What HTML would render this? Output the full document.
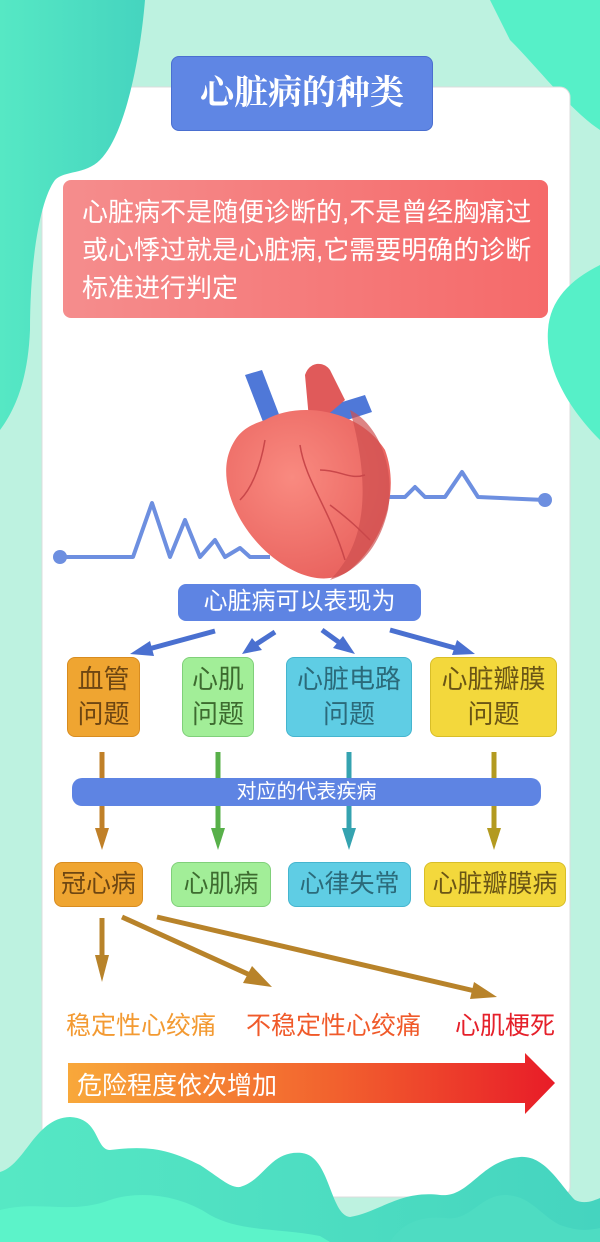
<!DOCTYPE html>
<html><head><meta charset="utf-8"><style>
*{margin:0;padding:0;box-sizing:border-box}
body{width:600px;height:1242px;position:relative;overflow:hidden;background:#bdf2e0;font-family:"Liberation Sans","Noto Sans CJK SC",sans-serif}
.a{position:absolute;white-space:nowrap}
.b{position:absolute;border-radius:8px;display:flex;align-items:center;justify-content:center;text-align:center;line-height:1.35;white-space:nowrap}
</style></head><body>
<svg class="a" style="left:0;top:0" width="600" height="1242">
<defs>
<linearGradient id="g1" x1="0" x2="1"><stop offset="0" stop-color="#56e8c4"/><stop offset="1" stop-color="#45d4bf"/></linearGradient>
<linearGradient id="ar" x1="0" x2="1"><stop offset="0" stop-color="#f8a83a"/><stop offset="0.55" stop-color="#f2612e"/><stop offset="1" stop-color="#e81c28"/></linearGradient>
<linearGradient id="pk" x1="0" x2="1"><stop offset="0" stop-color="#f58d8d"/><stop offset="1" stop-color="#f56a6a"/></linearGradient>
<radialGradient id="ht" cx="0.4" cy="0.4" r="0.7"><stop offset="0" stop-color="#f98a80"/><stop offset="1" stop-color="#e8605c"/></radialGradient>
</defs>
<path d="M490 0 H600 V130 C570 110 540 70 510 40 Z" fill="#56f0c8"/>
<rect x="42" y="87" width="528" height="1110" rx="10" fill="#fff" stroke="#dcdcdc"/>
<path d="M0 0 H145 C140 60 125 135 100 160 C85 175 65 170 55 180 C40 200 30 260 30 330 C28 380 15 410 0 430 Z" fill="url(#g1)"/>
<path d="M600 265 C570 280 550 300 548 330 C545 370 570 410 600 440 Z" fill="#56f0c8"/>
<!-- bottom waves -->
<path d="M0 1172 C25 1165 35 1118 70 1117 C100 1118 95 1150 110 1150 C150 1145 170 1150 200 1165 C220 1178 230 1188 240 1187 C265 1180 270 1150 302 1153 C330 1156 330 1215 350 1217 C380 1212 400 1190 440 1195 C470 1198 480 1160 520 1157 C545 1155 560 1185 575 1200 C585 1205 595 1200 600 1198 V1242 H0 Z" fill="url(#g1)"/>
<path d="M0 1210 C40 1200 70 1215 110 1200 C140 1190 180 1195 210 1215 C240 1232 280 1228 320 1236 L330 1242 H0 Z" fill="#5cf3c9"/>
<path d="M390 1242 C400 1225 420 1215 445 1218 C470 1222 480 1195 505 1195 C530 1195 540 1215 560 1225 C580 1232 590 1230 600 1228 V1242 Z" fill="#4edcc2"/>
<rect x="63" y="180" width="485" height="138" rx="8" fill="url(#pk)"/>
<polyline points="60,557 133,557 152,503 170,557 185,520 200,557 215,540 225,557 240,548 250,557 270,557" fill="none" stroke="#6d8fe0" stroke-width="4" stroke-linejoin="round"/>
<circle cx="60" cy="557" r="7" fill="#6d8fe0"/>
<polyline points="380,497 405,497 415,487 425,497 445,497 462,472 478,497 545,500" fill="none" stroke="#6d8fe0" stroke-width="4" stroke-linejoin="round"/>
<circle cx="545" cy="500" r="7" fill="#6d8fe0"/>
<path d="M245 375 L262 370 L285 430 L270 440 Z" fill="#4f78d8"/>
<path d="M300 415 L365 395 L372 412 L310 432 Z" fill="#4f78d8"/>
<path d="M305 375 C310 360 325 362 330 370 L345 400 L310 430 Z" fill="#e05a5a"/>
<path d="M265 420 C300 400 360 410 385 450 C400 490 385 540 350 570 C330 585 300 580 270 555 C235 525 218 480 230 450 C238 430 250 425 265 420 Z" fill="url(#ht)"/>
<path d="M350 410 C380 425 395 470 388 510 C380 545 360 570 330 580 C360 550 375 500 350 410 Z" fill="#cf5050" opacity="0.7"/>
<g stroke="#c9474a" stroke-width="1.5" fill="none"><path d="M265 440 C260 470 250 490 240 500"/><path d="M300 445 C305 480 330 510 345 560"/><path d="M320 470 C340 470 350 480 365 475"/><path d="M330 505 C350 520 360 530 370 540"/></g>
<g stroke="#4a70d0" stroke-width="5" fill="#4a70d0">
<line x1="215" y1="631" x2="145" y2="650"/><polygon points="130,654 150,641 154,656" stroke="none"/>
<line x1="275" y1="632" x2="255" y2="645"/><polygon points="242,654 252,638 262,650" stroke="none"/>
<line x1="322" y1="630" x2="340" y2="643"/><polygon points="355,654 333,648 343,636" stroke="none"/>
<line x1="390" y1="630" x2="455" y2="648"/><polygon points="475,654 452,655 457,640" stroke="none"/>
</g>
<g stroke-width="5">
<line x1="102" y1="752" x2="102" y2="830" stroke="#c08028"/><polygon points="95,828 109,828 102,850" fill="#c08028"/>
<line x1="218" y1="752" x2="218" y2="830" stroke="#58b04a"/><polygon points="211,828 225,828 218,850" fill="#58b04a"/>
<line x1="349" y1="752" x2="349" y2="830" stroke="#35a3b0"/><polygon points="342,828 356,828 349,850" fill="#35a3b0"/>
<line x1="494" y1="752" x2="494" y2="830" stroke="#b39a20"/><polygon points="487,828 501,828 494,850" fill="#b39a20"/>
</g>
<g stroke="#b8832a" stroke-width="5" fill="#b8832a">
<line x1="102" y1="918" x2="102" y2="960"/><polygon points="95,955 109,955 102,982" stroke="none"/>
<line x1="122" y1="917" x2="250" y2="975"/><polygon points="272,987 243,983 252,966" stroke="none"/>
<line x1="157" y1="917" x2="475" y2="991"/><polygon points="497,997 470,999 474,982" stroke="none"/>
</g>
<polygon points="68,1063 525,1063 525,1053 555,1083 525,1114 525,1103 68,1103" fill="url(#ar)"/>
</svg>

<div class="b" style="left:171px;top:56px;width:262px;height:75px;background:#5f86e4;border:1px solid #4a6fd0;color:#fff;font-size:34px;font-weight:bold;font-family:'Liberation Serif','Noto Serif CJK SC',serif">心脏病的种类</div>
<div class="a" style="left:82px;top:193px;width:475px;white-space:normal;color:#fff;font-size:26px;line-height:38px">心脏病不是随便诊断的,不是曾经胸痛过或心悸过就是心脏病,它需要明确的诊断标准进行判定</div>

<div class="b" style="left:178px;top:584px;width:243px;height:37px;background:#5e84e3;color:#fff;font-size:24px">心脏病可以表现为</div>

<div class="b" style="left:67px;top:657px;width:73px;height:80px;background:#efa531;border:1px solid #d88c20;color:#6e4612;font-size:26px">血管<br>问题</div>
<div class="b" style="left:182px;top:657px;width:72px;height:80px;background:#a2ee98;border:1px solid #80d07a;color:#3d6b2f;font-size:26px">心肌<br>问题</div>
<div class="b" style="left:286px;top:657px;width:126px;height:80px;background:#5fcde4;border:1px solid #45b5cf;color:#2b6a7a;font-size:26px">心脏电路<br>问题</div>
<div class="b" style="left:430px;top:657px;width:127px;height:80px;background:#f3d83c;border:1px solid #d8be28;color:#6a5515;font-size:26px">心脏瓣膜<br>问题</div>

<div class="b" style="left:72px;top:778px;width:469px;height:28px;border-radius:10px;background:#5e84e3;color:#fff;font-size:20px">对应的代表疾病</div>

<div class="b" style="left:54px;top:862px;width:89px;height:45px;background:#efa531;border:1px solid #d88c20;color:#6e4612;font-size:25px">冠心病</div>
<div class="b" style="left:171px;top:862px;width:100px;height:45px;background:#a2ee98;border:1px solid #80d07a;color:#3d6b2f;font-size:25px">心肌病</div>
<div class="b" style="left:288px;top:862px;width:123px;height:45px;background:#5fcde4;border:1px solid #45b5cf;color:#2b6a7a;font-size:25px">心律失常</div>
<div class="b" style="left:424px;top:862px;width:142px;height:45px;background:#f3d83c;border:1px solid #d8be28;color:#6a5515;font-size:25px">心脏瓣膜病</div>

<div class="a" style="left:66px;top:1006px;color:#f39a32;font-size:25px">稳定性心绞痛</div>
<div class="a" style="left:246px;top:1006px;color:#f05a2a;font-size:25px">不稳定性心绞痛</div>
<div class="a" style="left:455px;top:1006px;color:#e5202a;font-size:25px">心肌梗死</div>
<div class="a" style="left:77px;top:1066px;color:#fff;font-size:25px">危险程度依次增加</div>
</body></html>
